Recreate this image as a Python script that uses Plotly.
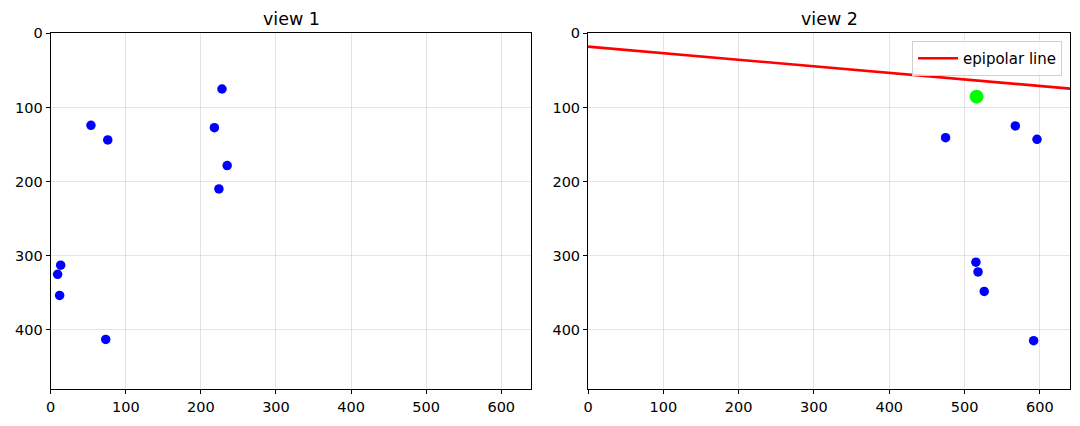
import plotly.graph_objects as go

# ---- data ----
view1_x = [228.1, 53.6, 76.0, 218.0, 235.0, 224.0, 13.3, 9.2, 11.9, 73.3]
view1_y = [75.1, 124.0, 143.8, 127.2, 178.4, 209.9, 312.7, 324.9, 353.4, 412.7]

view2_x = [474.8, 567.4, 596.2, 515.1, 517.9, 526.1, 591.7]
view2_y = [140.7, 124.9, 142.9, 308.6, 321.7, 348.0, 414.5]

selected_x = [516.0]
selected_y = [85.4]

epiline_x = [0, 640]
epiline_y = [18.0, 74.6]

x_ticks = [0, 100, 200, 300, 400, 500, 600]
y_ticks = [0, 100, 200, 300, 400]
titles = ["view 1", "view 2"]

W, H = 1080, 426
OFF = 8  # page body margin
FONT = "DejaVu Sans"


def px_x(p):
    return (p - OFF) / W


def px_y(p):
    return 1 - (p - OFF) / H


fig = go.Figure()

fig.add_trace(go.Scatter(x=view1_x, y=view1_y, mode="markers",
                         marker=dict(color="#0000ff", size=9.5, line=dict(width=0)),
                         xaxis="x", yaxis="y", showlegend=False, hoverinfo="skip"))
fig.add_trace(go.Scatter(x=epiline_x, y=epiline_y, mode="lines",
                         line=dict(color="#ff0000", width=2.6),
                         name="epipolar line",
                         xaxis="x2", yaxis="y2", showlegend=True, hoverinfo="skip"))
fig.add_trace(go.Scatter(x=view2_x, y=view2_y, mode="markers",
                         marker=dict(color="#0000ff", size=9.5, line=dict(width=0)),
                         xaxis="x2", yaxis="y2", showlegend=False, hoverinfo="skip"))
fig.add_trace(go.Scatter(x=selected_x, y=selected_y, mode="markers",
                         marker=dict(color="#00ff00", size=14, line=dict(width=0)),
                         xaxis="x2", yaxis="y2", showlegend=False, hoverinfo="skip"))

ydom = [px_y(389.3), px_y(33.3)]
xdom1 = [px_x(50.7), px_x(531.3)]
xdom2 = [px_x(588.0), px_x(1070.0)]

common_x = dict(range=[0, 640], tickvals=x_ticks, ticks="outside", ticklen=4,
                tickcolor="black", tickwidth=1, showline=True, linecolor="black",
                linewidth=1, mirror=True, showgrid=True, gridcolor="rgba(0,0,0,0.1)",
                gridwidth=1, zeroline=False, automargin=False,
                tickfont=dict(family=FONT, size=14.5, color="black"))
common_y = dict(range=[480, 0], tickvals=y_ticks, ticks="outside", ticklen=4,
                tickcolor="black", tickwidth=1, showline=True, linecolor="black",
                linewidth=1, mirror=True, showgrid=True, gridcolor="rgba(0,0,0,0.1)",
                gridwidth=1, zeroline=False, automargin=False,
                tickfont=dict(family=FONT, size=14.5, color="black"))

fig.update_layout(
    width=W, height=H,
    margin=dict(l=0, r=0, t=0, b=0),
    paper_bgcolor="white", plot_bgcolor="white",
    font=dict(family=FONT, color="black"),
    xaxis=dict(domain=xdom1, anchor="y", **common_x),
    yaxis=dict(domain=ydom, anchor="x", **common_y),
    xaxis2=dict(domain=xdom2, anchor="y2", **common_x),
    yaxis2=dict(domain=ydom, anchor="x2", **common_y),
    legend=dict(x=px_x(1062), y=px_y(41), xanchor="right", yanchor="top",
                itemwidth=40,
                bgcolor="rgba(255,255,255,0.8)", bordercolor="#d0d0d0", borderwidth=1,
                font=dict(family=FONT, size=15, color="black")),
    annotations=[
        dict(text=titles[0], x=(xdom1[0] + xdom1[1]) / 2, y=px_y(30), xref="paper", yref="paper",
             xanchor="center", yanchor="bottom", showarrow=False, borderpad=0,
             font=dict(family=FONT, size=17.5, color="black")),
        dict(text=titles[1], x=(xdom2[0] + xdom2[1]) / 2, y=px_y(30), xref="paper", yref="paper",
             xanchor="center", yanchor="bottom", showarrow=False, borderpad=0,
             font=dict(family=FONT, size=17.5, color="black")),
    ],
)

fig.write_html("out.html")
